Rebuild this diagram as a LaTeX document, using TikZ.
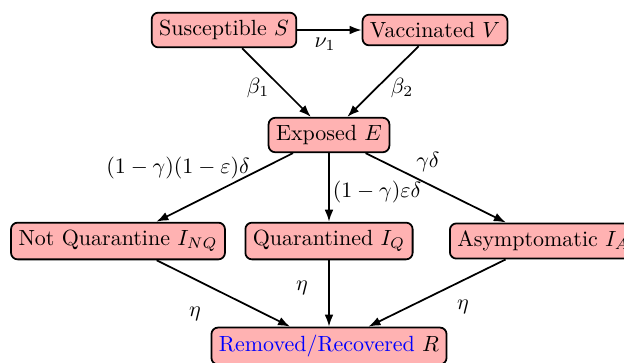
\documentclass[tikz,border=0pt]{standalone}
\usetikzlibrary{arrows.meta}
\begin{document}
\begin{tikzpicture}[x=0.455pt,y=-0.455pt,
  box/.style={draw=black, thick, fill=red!30, rounded corners=3pt, inner sep=3.4pt},
  flow/.style={-{Latex[length=5.5pt,width=4pt]}, thick},
  lab/.style={inner sep=1pt}]
\useasboundingbox (0,0) rectangle (624,362);
\node[box] (S) at (224,30) {Susceptible $S$};
\node[box] (V) at (435,30) {Vaccinated $V$};
\node[box] (E) at (329,135) {Exposed $E$};
\node[box] (NQ) at (118,241) {Not Quarantine $I_{NQ}$};
\node[box] (Q) at (329,241) {Quarantined $I_Q$};
\node[box, anchor=west] (A) at (449,241) {Asymptomatic $I_A$};
\node[box] (R) at (329,346) {\textcolor{blue}{Removed/Recovered} $R$};

\draw[flow] (S) -- (V);
\draw[flow] (S) -- (E);
\draw[flow] (V) -- (E);
\draw[flow] (E) -- (NQ);
\draw[flow] (E) -- (Q);
\draw[flow] (E) -- (A);
\draw[flow] (NQ) -- (R);
\draw[flow] (Q) -- (R);
\draw[flow] (A) -- (R);

\node[lab] (l1) at (325,44) {$\nu_1$};
\node[lab] (l2) at (258,88) {$\beta_1$};
\node[lab] (l3) at (402,88) {$\beta_2$};
\node[lab] (l4) at (178,168) {$(1-\gamma)(1-\varepsilon)\delta$};
\node[lab] (l5) at (377,192) {$(1-\gamma)\varepsilon\delta$};
\node[lab] (l6) at (428,162) {$\gamma\delta$};
\node[lab] (l7) at (195,314) {$\eta$};
\node[lab] (l8) at (302,288) {$\eta$};
\node[lab] (l9) at (463,307) {$\eta$};
\end{tikzpicture}
\end{document}
